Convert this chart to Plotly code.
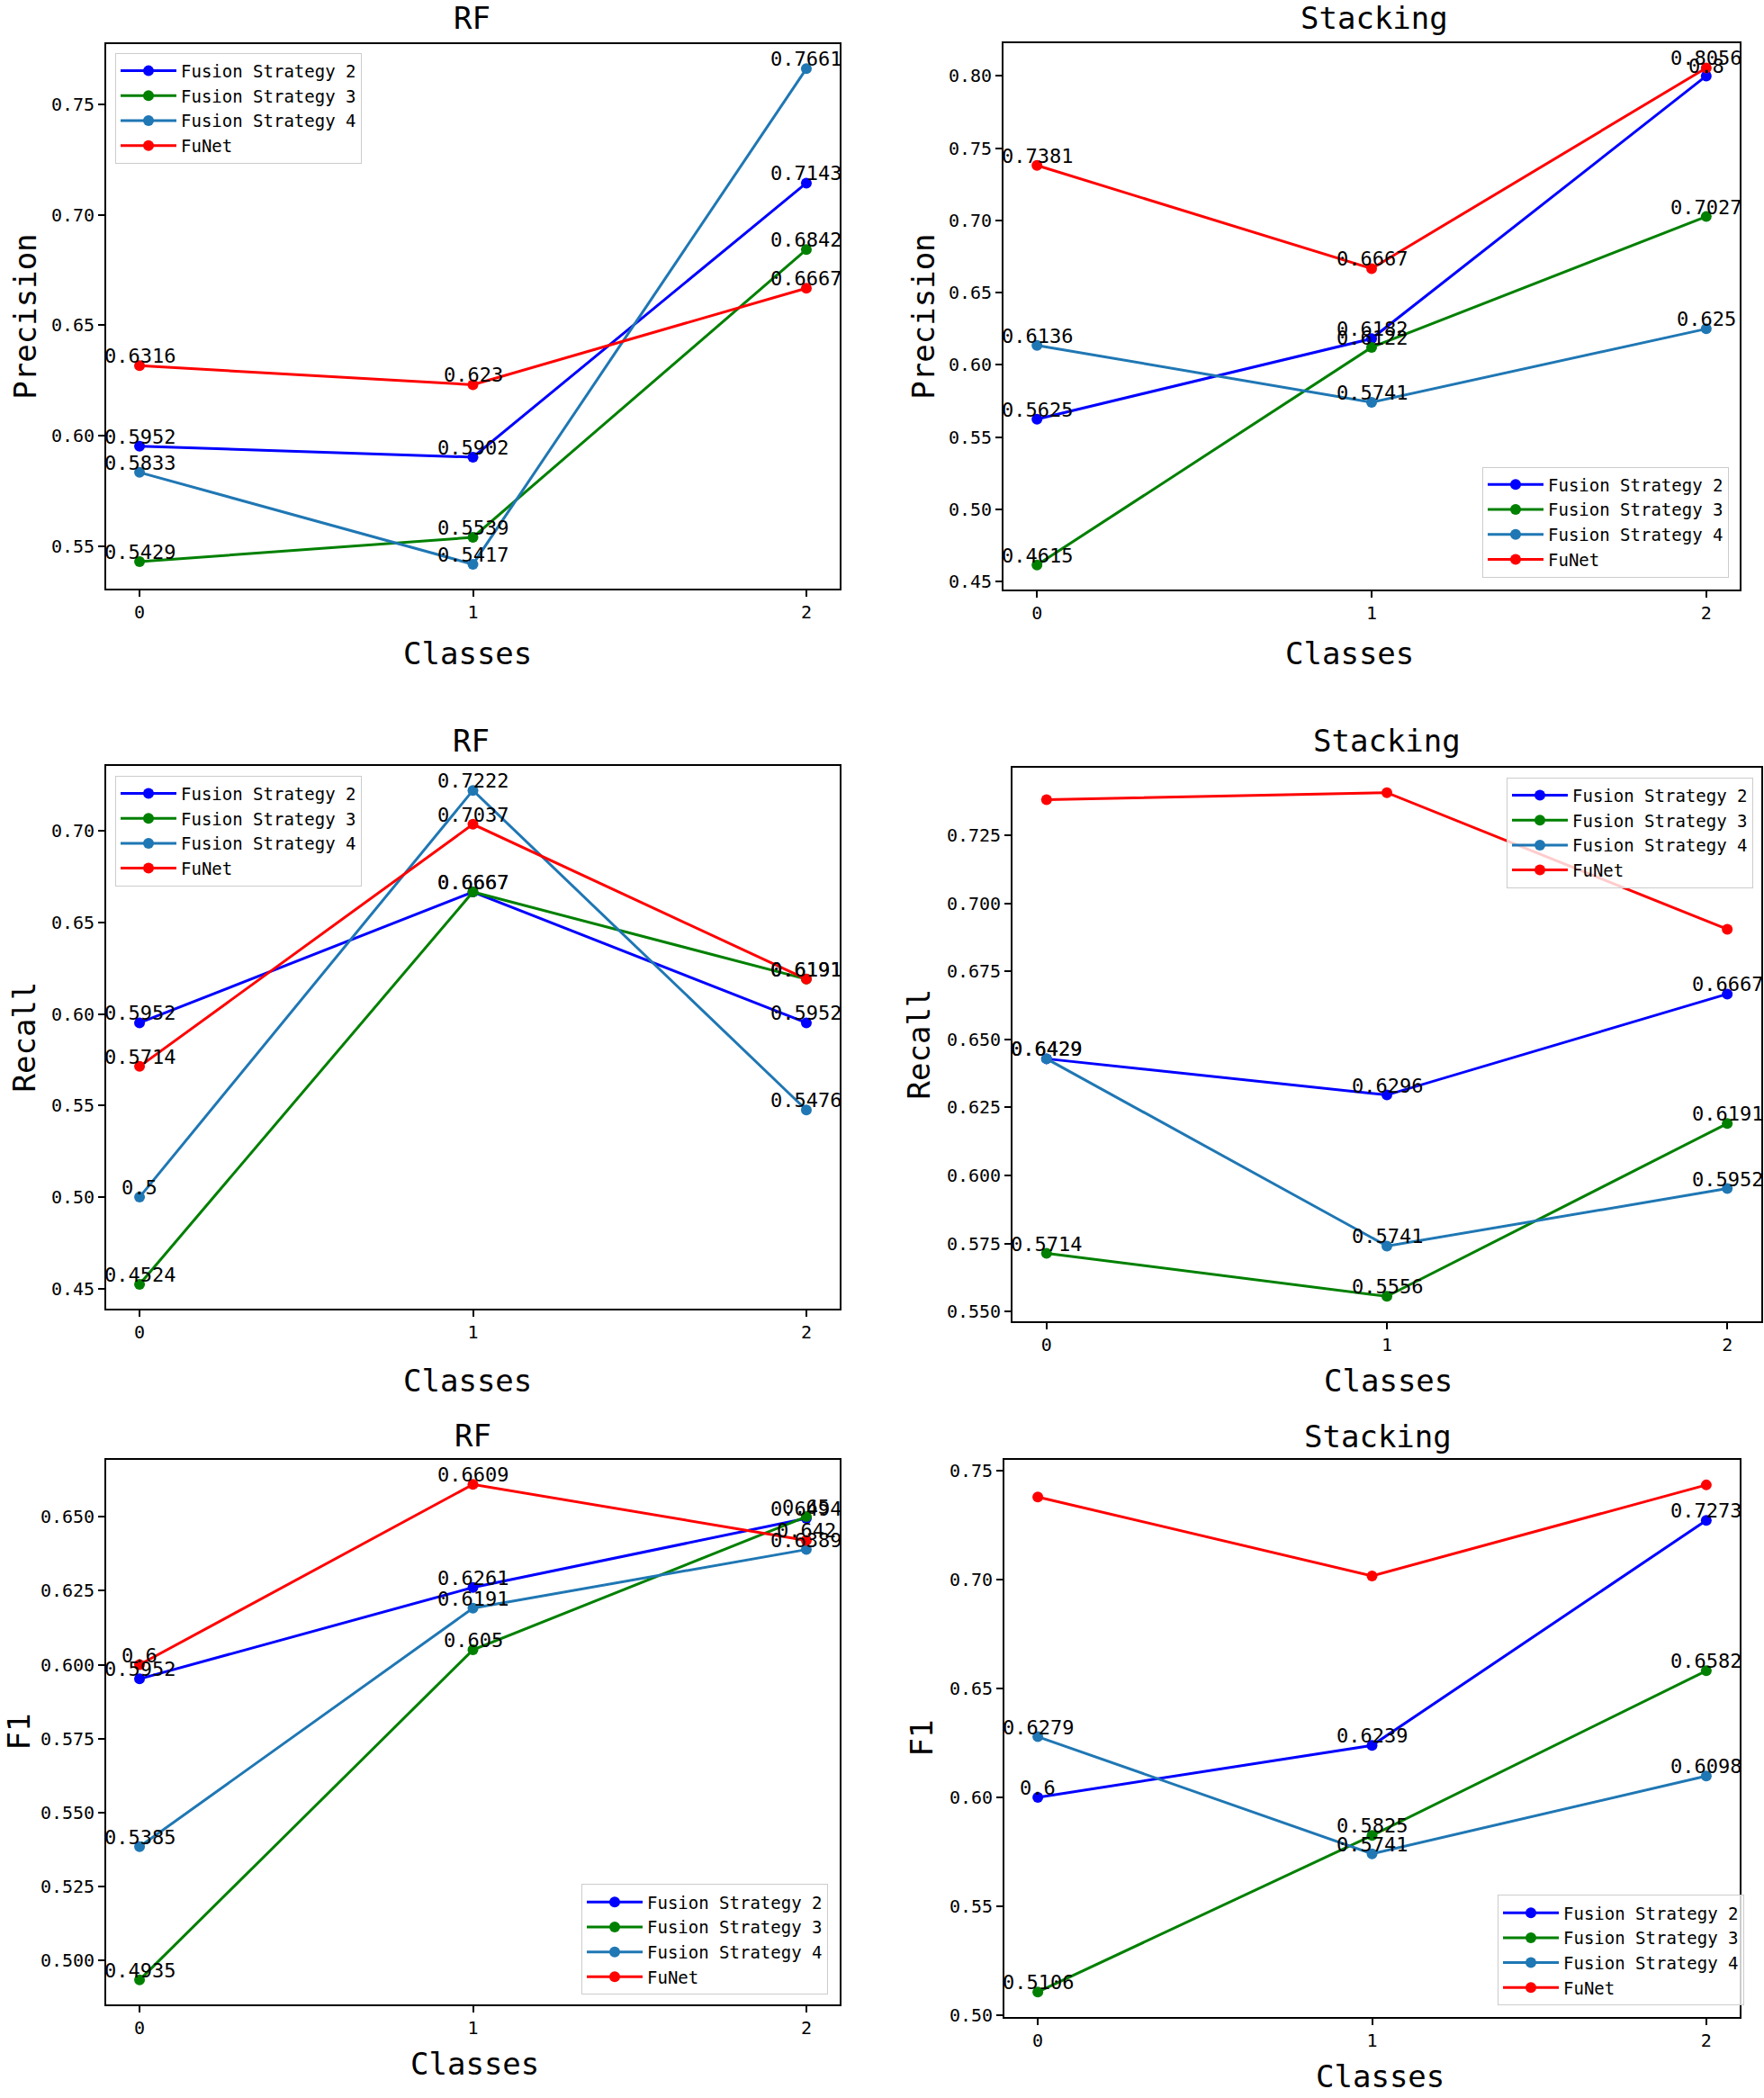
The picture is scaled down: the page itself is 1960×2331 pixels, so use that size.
import plotly.graph_objects as go

# ---------------- data ----------------
classes = [0, 1, 2]
series_names = ["Fusion Strategy 2", "Fusion Strategy 3", "Fusion Strategy 4", "FuNet"]

# order of rows: FS2, FS3, FS4, FuNet
rf_precision = [
    [0.5952, 0.5902, 0.7143],
    [0.5429, 0.5539, 0.6842],
    [0.5833, 0.5417, 0.7661],
    [0.6316, 0.623, 0.6667],
]
stacking_precision = [
    [0.5625, 0.6182, 0.8],
    [0.4615, 0.6122, 0.7027],
    [0.6136, 0.5741, 0.625],
    [0.7381, 0.6667, 0.8056],
]
rf_recall = [
    [0.5952, 0.6667, 0.5952],
    [0.4524, 0.6667, 0.6191],
    [0.5, 0.7222, 0.5476],
    [0.5714, 0.7037, 0.6191],
]
stacking_recall = [
    [0.6429, 0.6296, 0.6667],
    [0.5714, 0.5556, 0.6191],
    [0.6429, 0.5741, 0.5952],
    [0.7381, 0.7407, 0.6905],
]
rf_f1 = [
    [0.5952, 0.6261, 0.6494],
    [0.4935, 0.605, 0.65],
    [0.5385, 0.6191, 0.6389],
    [0.6, 0.6609, 0.642],
]
stacking_f1 = [
    [0.6, 0.6239, 0.7273],
    [0.5106, 0.5825, 0.6582],
    [0.6279, 0.5741, 0.6098],
    [0.7381, 0.7018, 0.7436],
]
panel_titles = ["RF", "Stacking", "RF", "Stacking", "RF", "Stacking"]
y_titles = ["Precision", "Precision", "Recall", "Recall", "F1", "F1"]
x_title = "Classes"
panel_data = [rf_precision, stacking_precision, rf_recall, stacking_recall, rf_f1, stacking_f1]
# which series carry value labels (FuNet unlabeled in stacking recall / F1)
labelled = [
    [True, True, True, True],
    [True, True, True, True],
    [True, True, True, True],
    [True, True, True, False],
    [True, True, True, True],
    [True, True, True, False],
]
y_dticks = [0.05, 0.05, 0.05, 0.025, 0.025, 0.05]
y_formats = [".2f", ".2f", ".2f", ".3f", ".3f", ".2f"]

# ---------------- styling / layout ----------------
W, H = 1960, 2331
colors = ["#0000ff", "#008000", "#1f77b4", "#ff0000"]
FONT = "DejaVu Sans Mono"

# axes boxes in pixels: left, top, right, bottom
boxes = [
    (118, 49, 933, 657),
    (1115, 48, 1933, 658),
    (118, 854, 933, 1460),
    (1125, 856, 1957, 1474),
    (118, 1628, 933, 2236),
    (1116, 1628, 1933, 2250),
]
title_pos = [(524, 20), (1527, 20), (523, 826), (1541, 826), (525, 1601), (1531, 1602)]
xlabel_pos = [(519, 729), (1499, 729), (519, 1540), (1542, 1540), (527, 2302), (1533, 2316)]
ylabel_pos = [(28, 353), (1026, 353), (27, 1157), (1021, 1165), (21, 1932), (1024, 1939)]
# legend: (x px, y px, xanchor, yanchor)
legend_pos = [
    (128, 59, "left", "top"),
    (1921, 644, "right", "bottom"),
    (128, 865, "left", "top"),
    (1948, 867, "right", "top"),
    (920, 2225, "right", "bottom"),
    (1938, 2237, "right", "bottom"),
]


def fx(p):
    return p / W


def fy(p):
    return 1 - p / H


fig = go.Figure()
annotations = []
layout_updates = {}

for i, data in enumerate(panel_data):
    n = i + 1
    xa = "x" if n == 1 else f"x{n}"
    ya = "y" if n == 1 else f"y{n}"
    lg = "legend" if n == 1 else f"legend{n}"
    for s, vals in enumerate(data):
        fig.add_trace(go.Scatter(
            x=classes, y=vals, mode="lines+markers", name=series_names[s],
            line=dict(color=colors[s], width=3),
            marker=dict(color=colors[s], size=12),
            xaxis=xa, yaxis=ya, legend=lg, cliponaxis=False,
        ))
        if labelled[i][s]:
            for c, v in zip(classes, vals):
                annotations.append(dict(
                    x=c, y=v, xref=xa, yref=ya, text=str(v), showarrow=False,
                    xanchor="center", yanchor="bottom", yshift=-4,
                    font=dict(family=FONT, size=22, color="black"),
                ))
    l, t, r, b = boxes[i]
    flat = [v for row in data for v in row]
    lo, hi = min(flat), max(flat)
    pad = (hi - lo) * 0.05
    axis_common = dict(
        showline=True, linecolor="black", linewidth=1.8, mirror=True,
        ticks="outside", ticklen=7, tickwidth=1.5, tickcolor="black",
        showgrid=False, zeroline=False,
        tickfont=dict(family=FONT, size=20, color="black"),
    )
    layout_updates["xaxis" if n == 1 else f"xaxis{n}"] = dict(
        domain=[fx(l), fx(r)], anchor=ya, range=[-0.1, 2.1],
        tickmode="array", tickvals=classes, ticktext=[str(c) for c in classes],
        **axis_common,
    )
    layout_updates["yaxis" if n == 1 else f"yaxis{n}"] = dict(
        domain=[fy(b), fy(t)], anchor=xa, range=[lo - pad, hi + pad],
        dtick=y_dticks[i], tick0=0, tickformat=y_formats[i],
        **axis_common,
    )
    lx, ly, xan, yan = legend_pos[i]
    layout_updates[lg] = dict(
        x=fx(lx), y=fy(ly), xanchor=xan, yanchor=yan,
        xref="paper", yref="paper",
        bgcolor="rgba(255,255,255,0.8)", bordercolor="#cccccc", borderwidth=1,
        font=dict(family=FONT, size=19, color="black"), itemwidth=62,
        tracegroupgap=0,
    )
    tx, ty = title_pos[i]
    annotations.append(dict(
        x=fx(tx), y=fy(ty), xref="paper", yref="paper", text=panel_titles[i],
        showarrow=False, xanchor="center", yanchor="middle",
        font=dict(family=FONT, size=34, color="black"),
    ))
    ax_, ay_ = xlabel_pos[i]
    annotations.append(dict(
        x=fx(ax_), y=fy(ay_), xref="paper", yref="paper", text=x_title,
        showarrow=False, xanchor="center", yanchor="middle",
        font=dict(family=FONT, size=34, color="black"),
    ))
    yx, yy = ylabel_pos[i]
    annotations.append(dict(
        x=fx(yx), y=fy(yy), xref="paper", yref="paper", text=y_titles[i],
        showarrow=False, xanchor="center", yanchor="middle", textangle=-90,
        font=dict(family=FONT, size=34, color="black"),
    ))

fig.update_layout(
    width=W, height=H,
    margin=dict(l=0, r=0, t=0, b=0),
    paper_bgcolor="white", plot_bgcolor="white",
    annotations=annotations,
    **layout_updates,
)

fig.write_html(
    "out.html",
    config={"displayModeBar": False},
    post_script="document.body.style.margin='0px';",
)
